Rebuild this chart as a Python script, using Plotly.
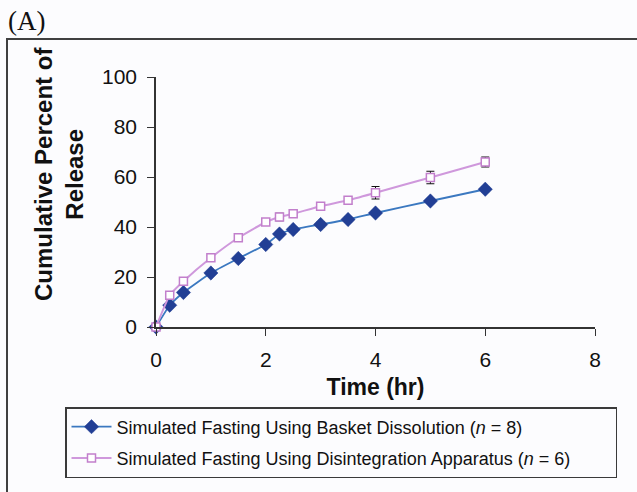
import plotly.graph_objects as go

# ---- data ----
time_hr = [0, 0.25, 0.5, 1, 1.5, 2, 2.25, 2.5, 3, 3.5, 4, 5, 6]
basket = [0, 8.7, 13.8, 21.6, 27.4, 33.0, 37.2, 39.0, 41.0, 43.0, 45.6, 50.4, 55.1]
basket_sd = [0, 0.8, 0.8, 0.8, 0.8, 1.0, 1.0, 1.0, 1.0, 1.0, 1.0, 1.0, 1.0]
disint = [0, 12.7, 18.3, 27.7, 35.7, 42.0, 44.0, 45.3, 48.3, 50.7, 53.7, 59.8, 66.0]
disint_sd = [0, 1.0, 1.0, 1.0, 1.0, 1.2, 1.5, 1.2, 1.5, 1.5, 2.5, 2.5, 2.0]
x_ticks = [0, 2, 4, 6, 8]
y_ticks = [0, 20, 40, 60, 80, 100]
name_basket = "Simulated Fasting Using Basket Dissolution (<i>n</i> = 8)"
name_disint = "Simulated Fasting Using Disintegration Apparatus (<i>n</i> = 6)"

W, H = 637, 492
L, R, T, B = 156, 42, 77, 165
PW, PH = W - L - R, H - T - B


def px(xp):
    return (xp - L) / PW


def py(yp):
    return (H - B - yp) / PH


FONT = "Liberation Sans, Arial, Helvetica, sans-serif"
PAD = "\u00a0" * 8  # invisible padding so the legend box is as wide as the original

fig = go.Figure()
fig.add_trace(go.Scatter(
    x=time_hr, y=basket, name=name_basket, mode="lines+markers",
    line=dict(color="#3b78c0", width=1.8, shape="spline", smoothing=0.4),
    marker=dict(symbol="diamond", size=11, color="#223f95",
                line=dict(color="#223f95", width=0.5)),
    error_y=dict(type="data", array=basket_sd, visible=True, color="#111111",
                 thickness=1, width=4),
    cliponaxis=False, legendgroup="a",
))
fig.add_trace(go.Scatter(
    x=time_hr, y=disint, name=name_disint + PAD, mode="lines+markers",
    line=dict(color="#cf98dc", width=2, shape="spline", smoothing=0.4),
    marker=dict(symbol="square", size=8, color="#ffffff",
                line=dict(color="#c27fcc", width=1.5)),
    error_y=dict(type="data", array=disint_sd, visible=True, color="#111111",
                 thickness=1, width=4),
    cliponaxis=False, legendgroup="b",
))

axis_common = dict(
    showline=True, linecolor="#333333", linewidth=1.5,
    ticks="outside", ticklen=7, tickwidth=1.2, tickcolor="#333333",
    showgrid=False, zeroline=False, ticklabelstandoff=6,
    tickfont=dict(family=FONT, size=21, color="#111111"),
)

fig.update_layout(
    width=W, height=H,
    margin=dict(l=L, r=R, t=T, b=B, autoexpand=False),
    paper_bgcolor="#fcfcfe", plot_bgcolor="#fcfcfe",
    font=dict(family=FONT, color="#111111"),
    xaxis=dict(range=[0, 8], tickvals=x_ticks, **axis_common,
               title=dict(text="<b>Time (hr)</b>", standoff=9,
                          font=dict(family=FONT, size=23, color="#111111"))),
    yaxis=dict(range=[0, 100], tickvals=y_ticks, **axis_common),
    showlegend=True,
    legend=dict(
        x=px(65), y=py(407), xanchor="left", yanchor="top",
        bgcolor="rgba(0,0,0,0)", bordercolor="#3a3a3a", borderwidth=1.5,
        font=dict(family=FONT, size=18, color="#111111"),
        traceorder="grouped", tracegroupgap=5, itemwidth=40,
    ),
    annotations=[
        dict(text="<b>Cumulative Percent of<br>Release</b>", textangle=-90,
             xref="paper", yref="paper", x=px(59), y=py(174),
             xanchor="center", yanchor="middle", showarrow=False,
             font=dict(family=FONT, size=24, color="#111111")),
        dict(text="(A)", xref="paper", yref="paper", x=px(6), y=py(4),
             xanchor="left", yanchor="top", showarrow=False,
             font=dict(family="Liberation Serif, Times New Roman, serif",
                       size=27, color="#111111")),
    ],
    shapes=[
        dict(type="rect", xref="paper", yref="paper",
             x0=px(7), y0=py(39), x1=px(720), y1=py(560),
             line=dict(color="#404040", width=2), layer="below"),
    ],
)

fig.write_html("out.html", config={"displayModeBar": False},
               post_script="document.body.style.margin='0';"
                           "document.body.style.overflow='hidden';")
